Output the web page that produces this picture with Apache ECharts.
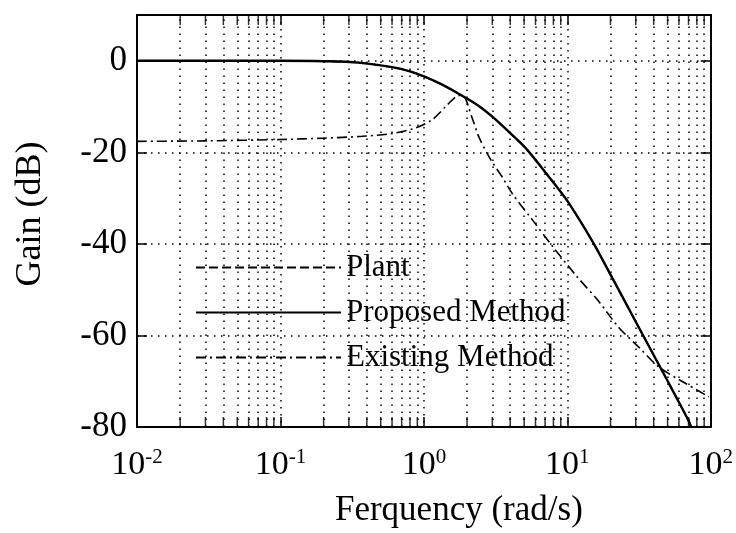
<!DOCTYPE html>
<html>
<head>
<meta charset="utf-8">
<script src="https://cdn.jsdelivr.net/npm/echarts@6/dist/echarts.min.js"></script>
<style>
html,body{margin:0;padding:0;background:#fff;}
#chart{width:736px;height:533px;}
</style>
</head>
<body>
<div id="chart"></div>
<script>
// ---- data (frequency in rad/s, gain in dB) ----
var proposedFreq = [0.01, 0.1, 0.2, 0.35, 0.6, 0.8, 1.0, 1.3, 1.77, 2.4, 3.0, 4.0, 5.2, 7.0, 10, 15, 20, 30, 43.5, 56.8, 70, 73];
var proposedGain = [0, 0, -0.1, -0.4, -1.4, -2.3, -3.4, -5.0, -7.3, -9.8, -12.2, -15.8, -19.3, -24.3, -30.6, -39.5, -46.7, -57.0, -66.4, -73.2, -78.6, -80];
var plantFreq = [0.01, 0.1, 0.2, 0.35, 0.6, 0.8, 1.0, 1.3, 1.77, 2.4, 3.0, 4.0, 5.2, 7.0, 10, 15, 20, 30, 43.5, 56.8, 70, 73];
var plantGain = [0, 0, -0.1, -0.4, -1.4, -2.3, -3.4, -5.0, -7.3, -9.8, -12.2, -15.8, -19.3, -24.3, -30.6, -39.5, -46.7, -57.0, -66.4, -73.2, -78.6, -80];
var existingFreq = [0.01, 0.03, 0.1, 0.2, 0.37, 0.6, 0.89, 1.15, 1.46, 1.68, 1.85, 2.17, 2.43, 2.95, 3.52, 4.13, 5.69, 7.83, 11.5, 16.6, 22.9, 31.6, 43.5, 67, 97];
var existingGain = [-17.6, -17.5, -17.2, -16.9, -16.5, -15.9, -14.6, -12.8, -9.6, -7.8, -7.5, -12.5, -16.8, -21.8, -25.4, -29, -34.7, -40.4, -46.9, -52.6, -58.3, -62.6, -66.9, -70.5, -73.4];
var seriesNames = ['Plant', 'Proposed Method', 'Existing Method'];
var decadeExponents = [-2, -1, 0, 1, 2];
var minorMultipliers = [2, 3, 4, 5, 6, 7, 8, 9];
var gainTicks = [-80, -60, -40, -20, 0];

function pairs(xs, ys) { return xs.map(function (x, i) { return [x, ys[i]]; }); }

var minorFreqs = [];
decadeExponents.slice(0, -1).forEach(function (e) {
  minorMultipliers.forEach(function (m) { minorFreqs.push(m * Math.pow(10, e)); });
});

var serif = 'Liberation Serif';
var dotted = { color: '#000', width: 1.5, type: [1.5, 5.5] };

var chart = echarts.init(document.getElementById('chart'), null, { renderer: 'canvas' });
chart.setOption({
  backgroundColor: '#fff',
  animation: false,
  color: ['#000', '#000', '#000'],
  grid: { left: 137, right: 24, top: 15, bottom: 101 },
  legend: {
    orient: 'vertical', left: 195, top: 252, padding: 0,
    itemWidth: 145, itemHeight: 14, itemGap: 14,
    itemStyle: { opacity: 0 },
    textStyle: { fontFamily: serif, fontSize: 31, color: '#000' },
    data: seriesNames
  },
  xAxis: [
    {
      type: 'log', logBase: 10, min: 0.01, max: 100, position: 'bottom',
      name: 'Ferquency (rad/s)', nameLocation: 'middle', nameGap: 66,
      nameTextStyle: { fontFamily: serif, fontSize: 35, color: '#000', padding: [0, 0, 0, 70] },
      axisLine: { show: true, onZero: false, lineStyle: { color: '#000', width: 2 } },
      axisTick: { show: true, inside: true, length: 10, lineStyle: { color: '#000', width: 1.5 } },
      axisLabel: {
        margin: 20, color: '#000',
        formatter: function (v) { return '{b|10}{s|' + Math.round(Math.log10(v)) + '}'; },
        rich: {
          b: { fontFamily: serif, fontSize: 34, color: '#000', verticalAlign: 'bottom' },
          s: { fontFamily: serif, fontSize: 21, color: '#000', verticalAlign: 'top', padding: [0, 0, 14, 0] }
        }
      },
      splitLine: { show: true, lineStyle: dotted }
    },
    {
      type: 'log', logBase: 10, min: 0.01, max: 100, position: 'top',
      axisLine: { show: true, onZero: false, lineStyle: { color: '#000', width: 2 } },
      axisTick: { show: true, inside: true, length: 10, lineStyle: { color: '#000', width: 1.5 } },
      axisLabel: { show: false }, splitLine: { show: false }
    }
  ],
  yAxis: [
    {
      type: 'value', min: -80, max: 10, interval: 20, position: 'left',
      name: 'Gain (dB)', nameLocation: 'middle', nameGap: 88, nameRotate: 90,
      nameTextStyle: { fontFamily: serif, fontSize: 36, color: '#000', padding: [0, 0, 0, 14] },
      axisLine: { show: true, onZero: false, lineStyle: { color: '#000', width: 2 } },
      axisTick: { show: true, inside: true, length: 10, lineStyle: { color: '#000', width: 1.5 } },
      axisLabel: {
        fontFamily: serif, fontSize: 35, color: '#000', margin: 10, showMaxLabel: false,
        formatter: function (v) { return gainTicks.indexOf(v) >= 0 ? String(v) : ''; }
      },
      splitLine: { show: true, lineStyle: dotted }
    },
    {
      type: 'value', min: -80, max: 10, interval: 20, position: 'right',
      axisLine: { show: true, onZero: false, lineStyle: { color: '#000', width: 2 } },
      axisTick: { show: true, inside: true, length: 10, lineStyle: { color: '#000', width: 1.5 } },
      axisLabel: { show: false }, splitLine: { show: false }
    }
  ],
  series: [
    {
      name: 'Plant', type: 'line', symbol: 'none', smooth: 0.3, z: 4,
      data: pairs(plantFreq, plantGain),
      itemStyle: { color: '#000' },
      lineStyle: { color: '#000', width: 1.6, type: [9, 4] }
    },
    {
      name: 'Proposed Method', type: 'line', symbol: 'none', smooth: 0.3, z: 3,
      data: pairs(proposedFreq, proposedGain),
      itemStyle: { color: '#000' },
      lineStyle: { color: '#000', width: 2.4, type: 'solid' }
    },
    {
      name: 'Existing Method', type: 'line', symbol: 'none', smooth: 0.3, z: 5,
      data: pairs(existingFreq, existingGain),
      itemStyle: { color: '#000' },
      lineStyle: { color: '#000', width: 1.6, type: [10, 4, 2, 4] }
    },
    {
      name: 'minorGrid', type: 'line', data: [], silent: true,
      markLine: {
        silent: true, symbol: ['none', 'none'], label: { show: false },
        lineStyle: dotted, animation: false,
        data: minorFreqs.map(function (f) { return { xAxis: f }; })
      }
    },
    {
      name: 'minorTicksBottom', type: 'scatter', silent: true,
      data: minorFreqs.map(function (f) { return [f, -80]; }),
      symbol: 'rect', symbolSize: [1.5, 10], symbolOffset: [0, -5],
      itemStyle: { color: '#000' }
    },
    {
      name: 'minorTicksTop', type: 'scatter', silent: true,
      data: minorFreqs.map(function (f) { return [f, 10]; }),
      symbol: 'rect', symbolSize: [1.5, 10], symbolOffset: [0, 5],
      itemStyle: { color: '#000' }
    }
  ]
});
</script>
</body>
</html>
